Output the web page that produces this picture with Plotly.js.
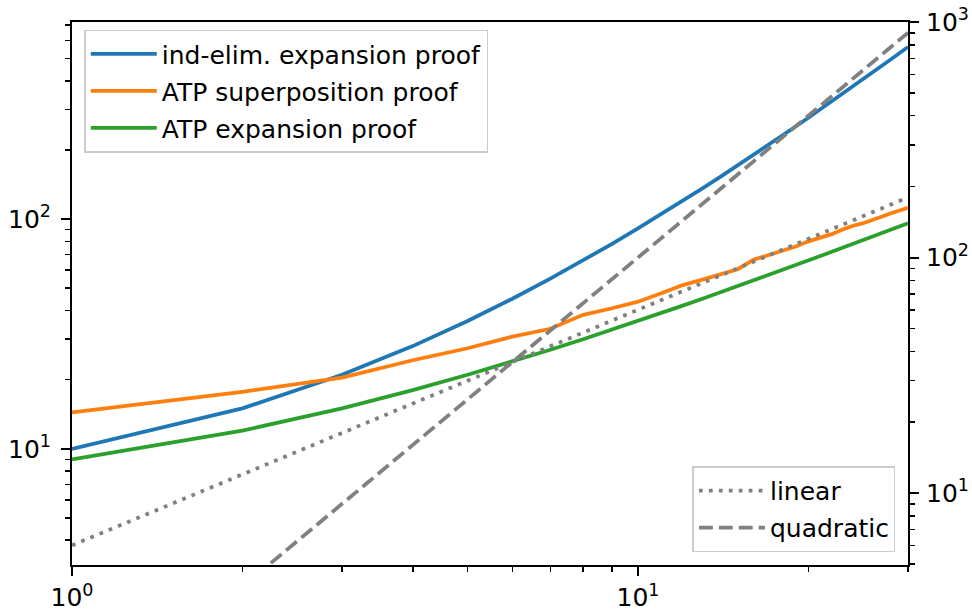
<!DOCTYPE html>
<html>
<head>
<meta charset="utf-8">
<script src="https://cdn.plot.ly/plotly-3.0.1.min.js"></script>
<style>
  html, body { margin: 0; padding: 0; background: #ffffff; }
  #chart { width: 972px; height: 612px; }
</style>
</head>
<body>
<div id="chart"></div>
<script>
// ---- data ----
const n = [1,2,3,4,5,6,7,8,9,10,11,12,13,14,15,16,17,18,19,20,21,22,23,24,25,26,27,28,29,30];
const indElimExpansion = [10,15,21,28,36,45,55,66,78,91,105,120,136,153,171,190,210,231,253,276,300,325,351,378,406,435,465,496,528,561];
const atpSuperposition = [14.4,17.7,20.4,24.3,27.4,30.8,33.3,38.3,40.9,43.7,47.5,51.6,54.5,57.5,60.5,66.5,69.5,72.5,76,80,83,86,90,93.5,96,99,102.5,106,109,112];
const atpExpansion = [9,12,15,18,21,24,27,30,33,36,39,42,45,48,51,54,57,60,63,66,69,72,75,78,81,84,87,90,93,96];
const linearRef = [6,12,18,24,30,36,42,48,54,60,66,72,78,84,90,96,102,108,114,120,126,132,138,144,150,156,162,168,174,180];
const quadraticRef = [1,4,9,16,25,36,49,64,81,100,121,144,169,196,225,256,289,324,361,400,441,484,529,576,625,676,729,784,841,900];

const seriesNames = ["ind-elim. expansion proof", "ATP superposition proof", "ATP expansion proof"];
const refNames = ["linear", "quadratic"];

const xTickVals = [1, 10];
const xTickText = ["10<sup>0</sup>", "10<sup>1</sup>"];
const xMinorVals = [2,3,4,5,6,7,8,9,20,30];
const yTickVals = [10, 100];
const yTickText = ["10<sup>1</sup>", "10<sup>2</sup>"];
const yMinorVals = [4,5,6,7,8,9,20,30,40,50,60,70,80,90,200,300,400,500,600,700];
const y2TickVals = [10, 100, 1000];
const y2TickText = ["10<sup>1</sup>", "10<sup>2</sup>", "10<sup>3</sup>"];
const y2MinorVals = [5,6,7,8,9,20,30,40,50,60,70,80,90,200,300,400,500,600,700,800,900];

// ---- styling ----
const LW = 3.75;
const colors = ["#1f77b4", "#ff7f0e", "#2ca02c"];
const grey = "#808080";

const traces = [
  {x: n, y: indElimExpansion, name: seriesNames[0], mode: "lines", line: {color: colors[0], width: LW}, legend: "legend", legendgroup: "a"},
  {x: n, y: atpSuperposition, name: seriesNames[1], mode: "lines", line: {color: colors[1], width: LW}, legend: "legend", legendgroup: "b"},
  {x: n, y: atpExpansion, name: seriesNames[2], mode: "lines", line: {color: colors[2], width: LW}, legend: "legend", legendgroup: "c"},
  {x: n, y: linearRef, name: refNames[0], mode: "lines", yaxis: "y2", line: {color: grey, width: LW, dash: "3.75px,6.2px"}, legend: "legend2", legendgroup: "d"},
  {x: n, y: quadraticRef, name: refNames[1], mode: "lines", yaxis: "y2", line: {color: grey, width: LW, dash: "13.9px,6px"}, legend: "legend2", legendgroup: "e"}
];

const axisCommon = {
  type: "log",
  showline: true, linecolor: "#000000", linewidth: 2,
  ticks: "outside", ticklen: 9, tickwidth: 2, tickcolor: "#000000",
  showgrid: false, zeroline: false, automargin: false,
  tickfont: {family: "DejaVu Sans", size: 25, color: "#000000"},
  tickmode: "array"
};
const minorCommon = {ticks: "outside", ticklen: 5, tickwidth: 1.5, tickcolor: "#000000", showgrid: false, tickmode: "array"};

const legendCommon = {
  bgcolor: "rgba(255,255,255,0.8)", bordercolor: "#cccccc", borderwidth: 1.5,
  font: {family: "DejaVu Sans", size: 25, color: "#000000"},
  itemwidth: 66, tracegroupgap: 1.5
};

const layout = {
  width: 972, height: 612,
  margin: {l: 72, r: 64, t: 22, b: 47, pad: 0},
  paper_bgcolor: "#ffffff", plot_bgcolor: "#ffffff",
  font: {family: "DejaVu Sans", size: 25, color: "#000000"},
  showlegend: true,
  xaxis: Object.assign({}, axisCommon, {
    range: [0, Math.log10(30)], mirror: true,
    tickvals: xTickVals, ticktext: xTickText,
    minor: Object.assign({}, minorCommon, {tickvals: xMinorVals})
  }),
  yaxis: Object.assign({}, axisCommon, {
    range: [0.4943, 2.8578], ticklabelstandoff: 5,
    tickvals: yTickVals, ticktext: yTickText,
    minor: Object.assign({}, minorCommon, {tickvals: yMinorVals})
  }),
  yaxis2: Object.assign({}, axisCommon, {
    overlaying: "y", side: "right", ticklabelstandoff: 2,
    range: [0.6947, 3],
    tickvals: y2TickVals, ticktext: y2TickText,
    minor: Object.assign({}, minorCommon, {tickvals: y2MinorVals})
  }),
  legend: Object.assign({}, legendCommon, {x: 0.0147, y: 0.986, xanchor: "left", yanchor: "top"}),
  legend2: Object.assign({}, legendCommon, {x: 0.985, y: 0.0232, xanchor: "right", yanchor: "bottom"})
};

Plotly.newPlot("chart", traces, layout, {displayModeBar: false, staticPlot: true});
</script>
</body>
</html>
